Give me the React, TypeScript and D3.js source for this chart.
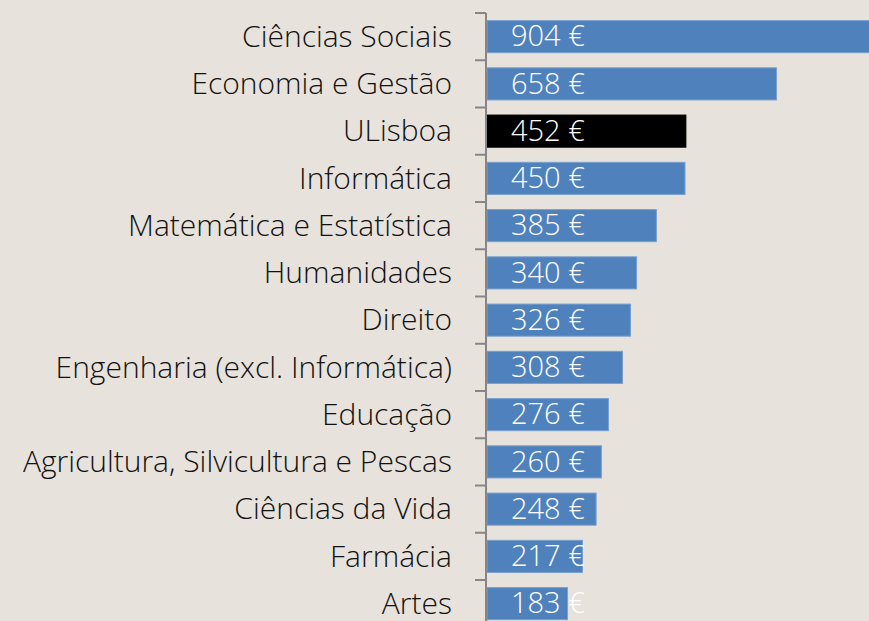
import { useEffect, useRef } from 'react';
import * as d3 from 'd3';

const categories = [
  'Ciências Sociais',
  'Economia e Gestão',
  'ULisboa',
  'Informática',
  'Matemática e Estatística',
  'Humanidades',
  'Direito',
  'Engenharia (excl. Informática)',
  'Educação',
  'Agricultura, Silvicultura e Pescas',
  'Ciências da Vida',
  'Farmácia',
  'Artes',
];
const values = [904, 658, 452, 450, 385, 340, 326, 308, 276, 260, 248, 217, 183];
const highlight = ['ULisboa'];

const W = 869;
const H = 621;

export default function App() {
  const svgRef = useRef<SVGSVGElement>(null);

  useEffect(() => {
    const svg = d3.select(svgRef.current);
    svg.selectAll('*').remove();

    const data = categories.map((c, i) => ({ label: c, value: values[i] }));

    const axisX = 486;
    const x = d3.scaleLinear().domain([0, 1000]).range([axisX + 1, axisX + 441]);
    const y = d3.scaleBand<string>()
      .domain(categories)
      .range([13, 13 + 47.25 * categories.length])
      .paddingInner(0.32)
      .paddingOuter(0.16);

    svg.append('rect').attr('width', W).attr('height', H).attr('fill', '#e7e3dc');

    // barras
    svg.append('g').selectAll('rect')
      .data(data)
      .enter()
      .append('rect')
      .attr('x', x(0))
      .attr('y', d => y(d.label)!)
      .attr('width', d => x(d.value) - x(0))
      .attr('height', y.bandwidth())
      .attr('fill', d => highlight.includes(d.label) ? '#000000' : '#4f81bd')
      .attr('stroke', d => highlight.includes(d.label) ? '#000000' : '#7ba0cf')
      .attr('stroke-width', 1);

    // eixo
    const step = y.step();
    const ax = svg.append('g').attr('stroke', '#868686');
    ax.append('line')
      .attr('x1', axisX).attr('x2', axisX)
      .attr('y1', 13).attr('y2', H)
      .attr('stroke-width', 2);
    ax.selectAll('line.tick')
      .data(d3.range(categories.length + 1))
      .enter()
      .append('line')
      .attr('class', 'tick')
      .attr('x1', axisX - 11).attr('x2', axisX)
      .attr('y1', i => 13 + i * step)
      .attr('y2', i => 13 + i * step)
      .attr('stroke-width', 2);

    const font = "'Open Sans', 'Liberation Sans', sans-serif";

    // rótulos das categorias
    svg.append('g').selectAll('text')
      .data(data)
      .enter()
      .append('text')
      .attr('x', 452)
      .attr('y', d => y(d.label)! + y.bandwidth() / 2)
      .attr('dy', '0.34em')
      .attr('text-anchor', 'end')
      .attr('font-family', font)
      .attr('font-weight', 300)
      .attr('font-size', 30)
      .attr('fill', '#111')
      .text(d => d.label);

    // valores
    svg.append('g').selectAll('text')
      .data(data)
      .enter()
      .append('text')
      .attr('x', axisX + 25)
      .attr('y', d => y(d.label)! + y.bandwidth() / 2)
      .attr('dy', '0.34em')
      .attr('font-family', font)
      .attr('font-weight', 300)
      .attr('font-size', 29)
      .attr('fill', '#ffffff')
      .text(d => `${d.value} €`);
  }, []);

  return (
    <div style={{ position: 'fixed', left: 0, top: 0, width: W, height: H, overflow: 'hidden' }}>
      <svg ref={svgRef} width={W} height={H} style={{ display: 'block' }}></svg>
    </div>
  );
}
